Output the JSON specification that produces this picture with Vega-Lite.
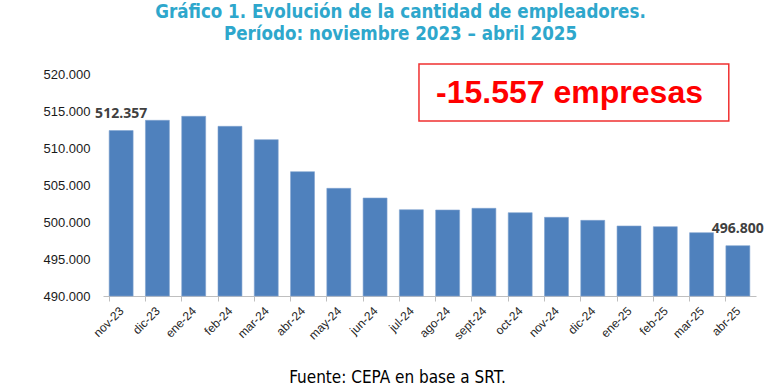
{
  "$schema": "https://vega.github.io/schema/vega-lite/v6.json",
  "autosize": "none",
  "width": 653,
  "height": 222,
  "padding": {"left": 103, "top": 74, "right": 14, "bottom": 96},
  "background": "white",
  "config": {
    "locale": {"number": {"decimal": ",", "thousands": ".", "grouping": [3], "currency": ["$", ""]}},
    "view": {"stroke": null},
    "font": "Liberation Sans",
    "axisY": {
      "title": null,
      "format": ",.0f",
      "grid": false,
      "domain": false,
      "ticks": false,
      "labelOverlap": false,
      "labelPadding": 13,
      "labelFont": "Liberation Sans",
      "labelFontSize": 13,
      "labelColor": "#1A1A1A"
    }
  },
  "title": {
    "text": ["Gráfico 1. Evolución de la cantidad de empleadores.", "Período: noviembre 2023 – abril 2025"],
    "font": "DejaVu Sans Condensed, Liberation Sans",
    "fontSize": 18.6,
    "fontWeight": "bold",
    "color": "#2EA7CC",
    "anchor": "middle",
    "dx": -29,
    "offset": 20,
    "lineHeight": 22
  },
  "data": {
    "values": [
      {"month": "nov-23", "value": 512357},
      {"month": "dic-23", "value": 513740},
      {"month": "ene-24", "value": 514280},
      {"month": "feb-24", "value": 512930},
      {"month": "mar-24", "value": 511130},
      {"month": "abr-24", "value": 506800},
      {"month": "may-24", "value": 504550},
      {"month": "jun-24", "value": 503240},
      {"month": "jul-24", "value": 501660},
      {"month": "ago-24", "value": 501620},
      {"month": "sept-24", "value": 501850},
      {"month": "oct-24", "value": 501260},
      {"month": "nov-24", "value": 500630},
      {"month": "dic-24", "value": 500220},
      {"month": "ene-25", "value": 499460},
      {"month": "feb-25", "value": 499370},
      {"month": "mar-25", "value": 498560},
      {"month": "abr-25", "value": 496800}
    ]
  },
  "layer": [
    {
      "layer": [
        {
          "mark": {"type": "bar", "color": "#4F81BD", "stroke": "#7FA3D0", "strokeWidth": 0.6},
          "encoding": {
            "x": {
              "field": "month", "type": "nominal", "sort": null,
              "scale": {"paddingInner": 0.34, "paddingOuter": 0.17},
              "axis": {
                "title": "Fuente: CEPA en base a SRT.",
                "titleFont": "DejaVu Sans Condensed, Liberation Sans",
                "titleFontSize": 17,
                "titleFontWeight": "normal",
                "titleColor": "#000000",
                "titleX": 294,
                "titleY": 86,
                "titleAlign": "center",
                "titleBaseline": "alphabetic",
                "labelAngle": -45,
                "labelFont": "Liberation Sans",
                "labelFontSize": 12,
                "labelColor": "#262626",
                "labelPadding": 4,
                "domainColor": "#BFBFBF",
                "tickColor": "#BFBFBF",
                "tickSize": 5,
                "bandPosition": 0,
                "labelOffset": -3
              }
            },
            "y": {
              "field": "value", "type": "quantitative",
              "scale": {"domain": [490000, 520000], "zero": false, "nice": false},
              "axis": {"values": [490000, 495000, 500000, 505000, 510000, 515000, 520000]}
            },
            "y2": {"datum": 490000}
          }
        },
        {
          "transform": [{"filter": "datum.month == 'nov-23' || datum.month == 'abr-25'"}],
          "mark": {"type": "text", "font": "Open Sans", "fontWeight": "bold", "fontSize": 14, "color": "#404040", "baseline": "alphabetic", "dy": -13},
          "encoding": {
            "x": {"field": "month", "type": "nominal", "sort": null},
            "y": {"field": "value", "type": "quantitative", "axis": {"values": [490000, 495000, 500000, 505000, 510000, 515000, 520000]}},
            "text": {"field": "value", "type": "quantitative", "format": ",.0f"}
          }
        }
      ]
    },
    {
      "data": {"values": [{}]},
      "layer": [
        {
          "mark": {"type": "rect", "fill": "white", "stroke": "#F03030", "strokeWidth": 1.5},
          "encoding": {
            "x": {"datum": 8.71, "type": "quantitative", "scale": {"domain": [0, 18]}, "axis": null},
            "x2": {"datum": 17.25},
            "y": {"datum": 521350, "type": "quantitative", "axis": {"values": [490000, 495000, 500000, 505000, 510000, 515000, 520000]}},
            "y2": {"datum": 513650}
          }
        },
        {
          "mark": {"type": "text", "text": "-15.557 empresas", "font": "Liberation Sans", "fontWeight": "bold", "fontSize": 32, "color": "#FF0000", "align": "center", "baseline": "alphabetic"},
          "encoding": {
            "x": {"datum": 12.86, "type": "quantitative"},
            "y": {"datum": 516120, "type": "quantitative", "axis": {"values": [490000, 495000, 500000, 505000, 510000, 515000, 520000]}}
          }
        }
      ]
    }
  ],
  "resolve": {"scale": {"x": "independent"}}
}
